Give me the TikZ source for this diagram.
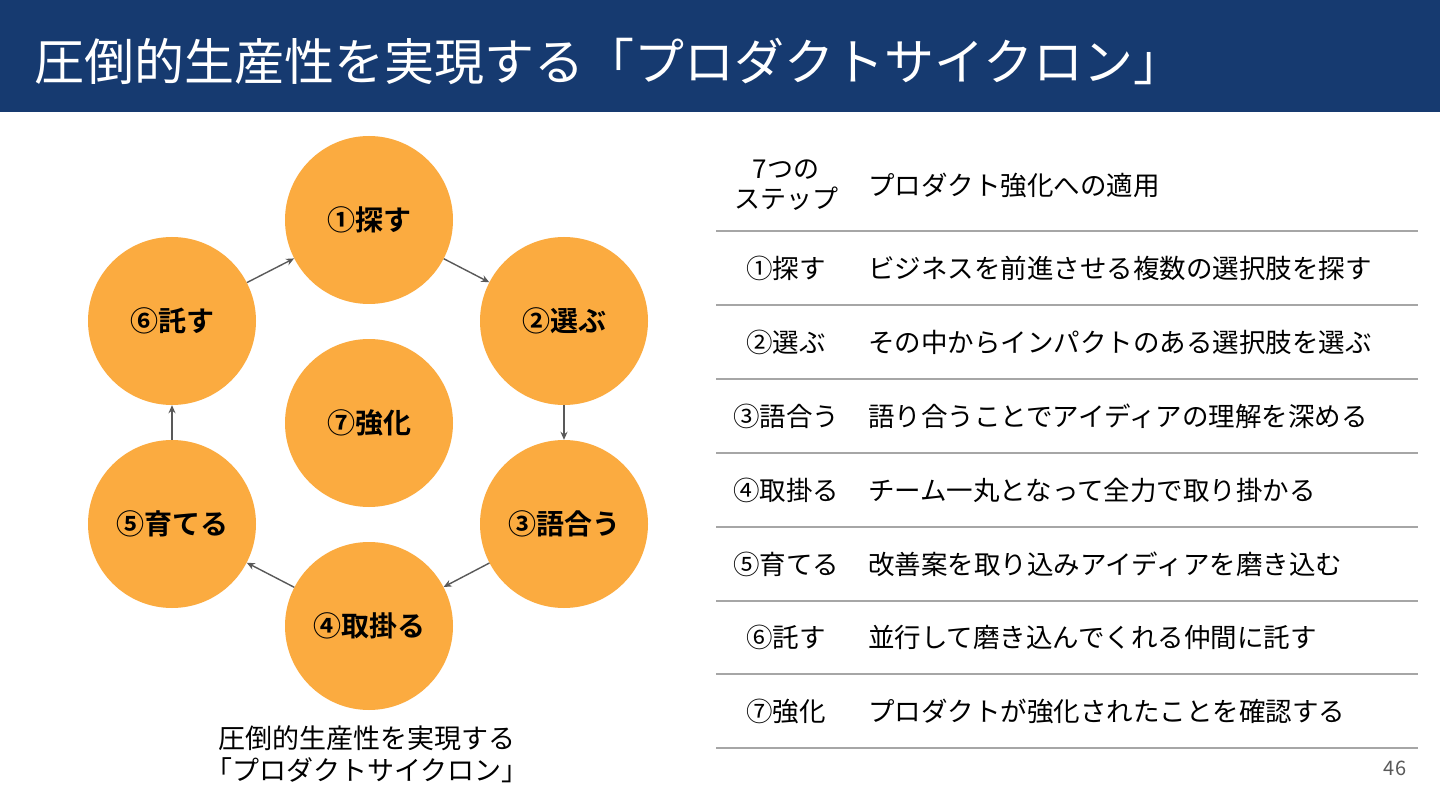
\documentclass[tikz,border=0pt]{standalone}
\usepackage{fontspec}
\setmainfont{Noto Sans CJK JP}[BoldFont={Noto Sans CJK JP Bold}]
\usetikzlibrary{arrows.meta}
\definecolor{hdr}{RGB}{22,58,112}
\definecolor{orng}{RGB}{251,171,64}
\definecolor{arr}{RGB}{89,89,89}
\definecolor{rule}{RGB}{166,166,166}
\definecolor{pgnum}{RGB}{89,89,89}
\tikzset{
  stepcirc/.style={circle, fill=orng, minimum size=168pt, inner sep=0pt, font=\fontsize{28}{32}\selectfont\bfseries},
  flow/.style={draw=arr, line width=1.4pt, -{Stealth[length=8pt,width=7pt]}},
  rowlbl/.style={font=\fontsize{26.5}{30}\selectfont, anchor=center, inner sep=0pt},
  rowtxt/.style={font=\fontsize{26.5}{30}\selectfont, anchor=west, inner sep=0pt},
  tabrule/.style={draw=rule, line width=1.8pt}
}
\begin{document}
\begin{tikzpicture}[x=1pt,y=-1pt]
\useasboundingbox (0,0) rectangle (1440,810);
\fill[white] (0,0) rectangle (1440,810);
\fill[hdr] (0,0) rectangle (1440,112);
\node[anchor=west, text=white, inner sep=0pt, font=\fontsize{50}{56}\selectfont] (title) at (34,62) {圧倒的生産性を実現する「プロダクトサイクロン」};

% circles
\node[stepcirc] (c1) at (369,220) {①探す};
\node[stepcirc] (c2) at (564,321) {②選ぶ};
\node[stepcirc] (c3) at (564,524) {③語合う};
\node[stepcirc] (c4) at (369,626) {④取掛る};
\node[stepcirc] (c5) at (172,524) {⑤育てる};
\node[stepcirc] (c6) at (172,321) {⑥託す};
\node[stepcirc] (c7) at (369,423) {⑦強化};

\draw[flow] (c1) -- (c2);
\draw[flow] (c2) -- (c3);
\draw[flow] (c3) -- (c4);
\draw[flow] (c4) -- (c5);
\draw[flow] (c5) -- (c6);
\draw[flow] (c6) -- (c1);

\node[align=center, inner sep=0pt, font=\fontsize{27}{32}\selectfont] (cap) at (367,754) {圧倒的生産性を実現する\\「プロダクトサイクロン」};

% table
\node[align=center, inner sep=0pt, font=\fontsize{26}{30}\selectfont] (h1) at (786,185) {7つの\\ステップ};
\node[rowtxt] (h2) at (868,185) {プロダクト強化への適用};

\foreach \y in {231,305,379,453,527,601,674,748} {
  \draw[tabrule] (716,\y) -- (1418,\y);
}

\node[rowlbl] (l1) at (786,268) {①探す};
\node[rowtxt] (t1) at (868,268) {ビジネスを前進させる複数の選択肢を探す};
\node[rowlbl] (l2) at (786,342) {②選ぶ};
\node[rowtxt] (t2) at (868,342) {その中からインパクトのある選択肢を選ぶ};
\node[rowlbl] (l3) at (786,416) {③語合う};
\node[rowtxt] (t3) at (868,416) {語り合うことでアイディアの理解を深める};
\node[rowlbl] (l4) at (786,490) {④取掛る};
\node[rowtxt] (t4) at (868,490) {チーム一丸となって全力で取り掛かる};
\node[rowlbl] (l5) at (786,564) {⑤育てる};
\node[rowtxt] (t5) at (868,564) {改善案を取り込みアイディアを磨き込む};
\node[rowlbl] (l6) at (786,637) {⑥託す};
\node[rowtxt] (t6) at (868,637) {並行して磨き込んでくれる仲間に託す};
\node[rowlbl] (l7) at (786,711) {⑦強化};
\node[rowtxt] (t7) at (868,711) {プロダクトが強化されたことを確認する};

\node[text=pgnum, inner sep=0pt, font=\fontsize{20}{22}\selectfont] (pg) at (1395,768) {46};
\end{tikzpicture}
\end{document}
